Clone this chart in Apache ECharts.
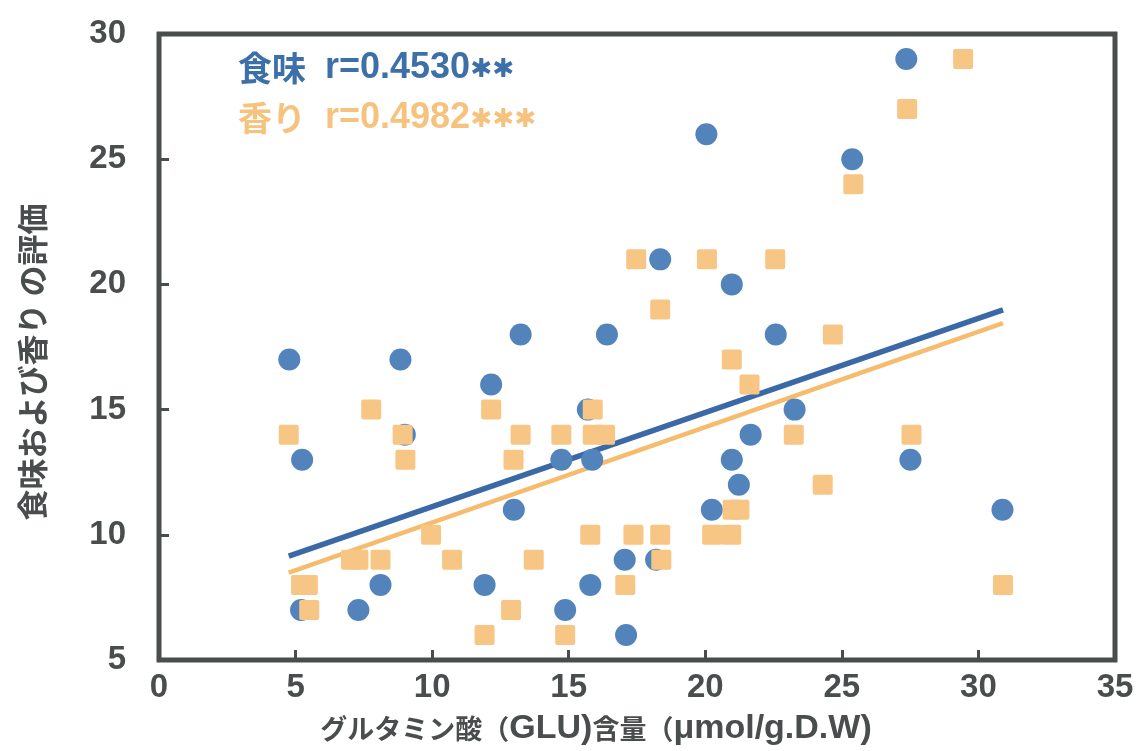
<!DOCTYPE html>
<html>
<head>
<meta charset="utf-8">
<script src="https://cdn.jsdelivr.net/npm/echarts@6/dist/echarts.min.js"></script>
<style>
  html, body { margin: 0; padding: 0; background: #ffffff; }
  #chart { width: 1140px; height: 751px; }
</style>
</head>
<body>
<div id="chart"></div>
<script>
// 食味 (taste) scores vs. glutamic acid content [GLU, score]
const tasteData = [
  [4.77, 17], [8.84, 17], [13.24, 18], [12.16, 16], [9.0, 14], [5.24, 13],
  [12.99, 11], [8.11, 8], [11.92, 8], [5.2, 7], [7.3, 7], [16.4, 18],
  [22.58, 18], [23.27, 15], [15.7, 15], [21.66, 14], [14.73, 13], [15.86, 13],
  [20.97, 13], [27.51, 13], [21.23, 12], [20.24, 11], [17.05, 9], [18.2, 9],
  [15.79, 8], [14.87, 7], [17.1, 6], [27.36, 29], [20.04, 26], [25.38, 25],
  [18.35, 21], [20.97, 20], [30.88, 11]
];

// 香り (aroma) scores vs. glutamic acid content [GLU, score]
const aromaData = [
  [7.77, 15], [12.16, 15], [4.75, 14], [8.92, 14], [13.24, 14], [9.02, 13],
  [12.98, 13], [9.96, 10], [7.03, 9], [7.3, 9], [8.11, 9], [10.73, 9],
  [13.72, 9], [5.2, 8], [5.45, 8], [5.5, 7], [12.89, 7], [11.92, 6],
  [24.67, 18], [20.97, 17], [21.62, 16], [15.88, 15], [14.73, 14], [15.88, 14],
  [16.33, 14], [23.24, 14], [27.55, 14], [24.3, 12], [21.0, 11], [21.25, 11],
  [15.79, 10], [17.37, 10], [18.35, 10], [20.25, 10], [20.95, 10], [18.39, 9],
  [17.07, 8], [14.87, 6], [27.39, 27], [25.42, 24], [17.47, 21], [20.06, 21],
  [22.56, 21], [18.35, 19], [29.44, 29], [30.9, 8]
];

// Regression line end points
const tasteFit = [[4.75, 9.15], [30.9, 18.98]];
const aromaFit = [[4.75, 8.49], [30.9, 18.45]];

// Correlation coefficients and significance marks
const tasteLabel = '食味';
const tasteR = 'r=0.4530';
const tasteSig = '＊＊';
const aromaLabel = '香り';
const aromaR = 'r=0.4982';
const aromaSig = '＊＊＊';

// Axis ranges and tick step
const xTicks = { min: 0, max: 35, interval: 5 };
const yTicks = { min: 5, max: 30, interval: 5 };

const BLUE = '#5283bb';
const BLUE_LINE = '#3b69a5';
const BLUE_TEXT = '#3d70a8';
const ORANGE = '#f8c684';
const ORANGE_LINE = '#f6bc6e';
const ORANGE_TEXT = '#f6c37f';
const INK = '#4a4d4d';

const squarePath = 'path://M2,0H18Q20,0 20,2V18Q20,20 18,20H2Q0,20 0,18V2Q0,0 2,0Z';

// Rich-text styles for one correlation caption line
function captionRich(color) {
  return {
    c: { fontFamily: '"Noto Sans CJK JP", sans-serif', fontWeight: 'bold', fontSize: 34, width: 87, fill: color },
    l: { fontFamily: '"Liberation Sans", Arial, sans-serif', fontWeight: 'bold', fontSize: 36, fill: color },
    s: {
      fontFamily: '"Noto Sans CJK JP", sans-serif', fontWeight: 'bold', fontSize: 22,
      fill: color, stroke: color, lineWidth: 2.2
    }
  };
}

const chart = echarts.init(document.getElementById('chart'), null, { renderer: 'canvas' });

chart.setOption({
  backgroundColor: '#ffffff',
  animation: false,
  grid: {
    left: 159, right: 25, top: 34, bottom: 89,
    show: true,
    borderColor: INK,
    borderWidth: 5,
    backgroundColor: 'transparent'
  },
  xAxis: {
    type: 'value',
    min: xTicks.min, max: xTicks.max, interval: xTicks.interval,
    axisLine: { show: false },
    axisTick: { show: true, inside: true, length: 10, lineStyle: { color: INK, width: 3 } },
    splitLine: { show: false },
    axisLabel: {
      show: true, showMinLabel: true, showMaxLabel: true,
      margin: 11,
      color: INK,
      fontFamily: '"Liberation Sans Narrow", "Liberation Sans", Arial, sans-serif',
      fontWeight: 'bold',
      fontSize: 33
    },
    name: '{a|グルタミン酸（}{b|GLU)}{a|含量（}{b|μmol/g.D.W)}',
    nameLocation: 'middle',
    nameGap: 52,
    nameTextStyle: {
      padding: [0, 82, 0, 0],
      rich: {
        a: {
          fontFamily: '"Noto Sans CJK JP", sans-serif',
          fontWeight: 'bold', fontSize: 27, color: INK
        },
        b: {
          fontFamily: '"Liberation Sans", Arial, sans-serif',
          fontWeight: 'bold', fontSize: 34, color: INK
        }
      }
    }
  },
  yAxis: {
    type: 'value',
    min: yTicks.min, max: yTicks.max, interval: yTicks.interval,
    axisLine: { show: false },
    axisTick: { show: true, inside: true, length: 10, lineStyle: { color: INK, width: 3 } },
    splitLine: { show: false },
    axisLabel: {
      show: true, showMinLabel: true, showMaxLabel: true,
      margin: 33,
      color: INK,
      fontFamily: '"Liberation Sans", Arial, sans-serif',
      fontWeight: 'bold',
      fontSize: 33,
      padding: [0, 0, 12, 0]
    },
    name: '食味および香り の評価',
    nameLocation: 'middle',
    nameRotate: 90,
    nameGap: 111,
    nameTextStyle: {
      fontFamily: '"Noto Sans CJK JP", sans-serif',
      fontWeight: 'bold',
      fontSize: 31,
      color: INK,
      padding: [0, 30, 0, 0]
    }
  },
  graphic: [
    {
      type: 'text', left: 238, top: 50, z: 10,
      style: {
        text: '{c|' + tasteLabel + '}{l|' + tasteR + '}{s|' + tasteSig + '}',
        rich: captionRich(BLUE_TEXT)
      }
    },
    {
      type: 'text', left: 238, top: 100, z: 10,
      style: {
        text: '{c|' + aromaLabel + '}{l|' + aromaR + '}{s|' + aromaSig + '}',
        rich: captionRich(ORANGE_TEXT)
      }
    }
  ],
  series: [
    {
      name: '香り回帰', type: 'line', data: aromaFit, z: 2,
      symbol: 'none', silent: true,
      lineStyle: { color: ORANGE_LINE, width: 4.5 }
    },
    {
      name: '食味回帰', type: 'line', data: tasteFit, z: 3,
      symbol: 'none', silent: true,
      lineStyle: { color: BLUE_LINE, width: 5.5 }
    },
    {
      name: '食味', type: 'scatter', data: tasteData, z: 4,
      symbol: 'circle', symbolSize: 22,
      itemStyle: { color: BLUE, opacity: 1 }
    },
    {
      name: '香り', type: 'scatter', data: aromaData, z: 5,
      symbol: squarePath, symbolSize: 20,
      itemStyle: { color: ORANGE, opacity: 1 }
    }
  ]
});
</script>
</body>
</html>
